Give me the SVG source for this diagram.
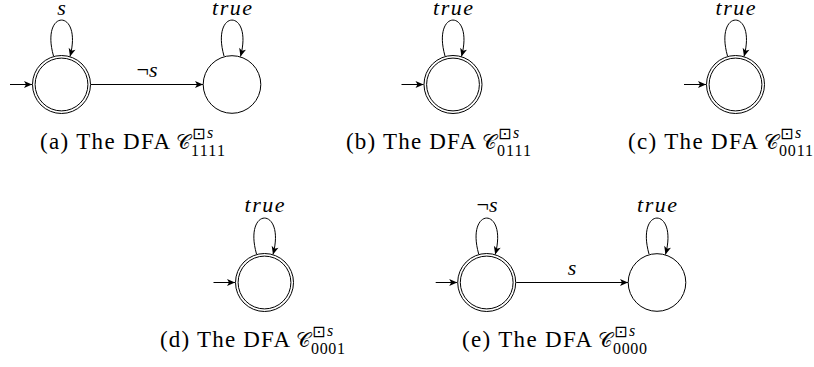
<svg xmlns="http://www.w3.org/2000/svg" width="814" height="367" viewBox="0 0 814 367">
<style>
.st{fill:none;stroke:#000;stroke-width:1}
.lbl{font-family:"Liberation Serif",serif;font-style:italic;font-size:22px;text-anchor:middle;fill:#000}
.up{font-style:normal}
.cap{font-family:"Liberation Serif",serif;font-size:23px;fill:#000}
.cal{font-family:"DejaVu Serif","DejaVu Sans","Liberation Serif",serif;font-size:20px;fill:#000}
.box{font-family:"DejaVu Sans",sans-serif;font-size:16px;fill:#000}
.sup{font-family:"Liberation Serif",serif;font-style:italic;font-size:16px;fill:#000}
.sub{font-family:"Liberation Serif",serif;font-size:16px;fill:#000}
</style>
<defs>
<marker id="ah" viewBox="-9 -5 10 10" refX="0" refY="0" markerWidth="10" markerHeight="10" orient="auto" markerUnits="userSpaceOnUse">
<path d="M-8,-3.5 L0,0 L-8,3.5 L-6,0 Z" fill="#000"/>
</marker>
</defs>

<!-- nodes -->
<g id="a-q0"><circle class="st" cx="61.5" cy="84.5" r="29"/><circle class="st" cx="61.5" cy="84.5" r="26.4"/></g>
<g id="a-q1"><circle class="st" cx="232" cy="84.5" r="28.8"/></g>
<g id="b-q0"><circle class="st" cx="453" cy="84.5" r="29"/><circle class="st" cx="453" cy="84.5" r="26.4"/></g>
<g id="c-q0"><circle class="st" cx="735.5" cy="84.5" r="29"/><circle class="st" cx="735.5" cy="84.5" r="26.4"/></g>
<g id="d-q0"><circle class="st" cx="264.5" cy="282.5" r="29"/><circle class="st" cx="264.5" cy="282.5" r="26.4"/></g>
<g id="e-q0"><circle class="st" cx="486.7" cy="282.5" r="29"/><circle class="st" cx="486.7" cy="282.5" r="26.4"/></g>
<g id="e-q1"><circle class="st" cx="657" cy="282.5" r="28.8"/></g>

<!-- connectors -->
<g id="connectors" class="st" marker-end="url(#ah)">
<path d="M10,84.5 H32"/>
<path d="M53.5,56 C40,8 83,8 70,56.5"/>
<path d="M224,56 C210.5,8 253.5,8 240.5,56.5"/>
<path d="M91,84.5 H203"/>
<path d="M401.5,84.5 H423.5"/>
<path d="M445,56 C431.5,8 474.5,8 461.5,56.5"/>
<path d="M684,84.5 H706"/>
<path d="M727.5,56 C714,8 757,8 744,56.5"/>
<path d="M213.5,282.5 H235"/>
<path d="M256.5,254 C243,206 286,206 273,254.5"/>
<path d="M435.7,282.5 H457.2"/>
<path d="M478.7,254 C465.2,206 508.2,206 495.2,254.5"/>
<path d="M516.2,282.5 H628"/>
<path d="M649,254 C635.5,206 678.5,206 665.5,254.5"/>
</g>

<!-- labels -->
<g id="labels">
<text class="lbl" x="61.5" y="15">s</text>
<text class="lbl" x="232" y="15" textLength="40" lengthAdjust="spacing">true</text>
<text class="lbl" x="147" y="77"><tspan class="up">¬</tspan>s</text>
<text class="lbl" x="453" y="15" textLength="40" lengthAdjust="spacing">true</text>
<text class="lbl" x="735.5" y="15" textLength="40" lengthAdjust="spacing">true</text>
<text class="lbl" x="264.5" y="212" textLength="40" lengthAdjust="spacing">true</text>
<text class="lbl" x="487" y="212"><tspan class="up">¬</tspan>s</text>
<text class="lbl" x="572" y="275">s</text>
<text class="lbl" x="657" y="212" textLength="40" lengthAdjust="spacing">true</text>
</g>

<!-- captions -->
<g id="cap-a">
<text class="cap" x="40" y="149" textLength="130" lengthAdjust="spacing">(a) The DFA</text>
<text class="cal" x="176" y="149">𝒞</text>
<text class="box" x="192" y="139">⊡</text>
<text class="sup" x="207" y="138">s</text>
<text class="sub" x="191" y="156" textLength="34" lengthAdjust="spacing">1111</text>
</g>
<g id="cap-b">
<text class="cap" x="346" y="149" textLength="130" lengthAdjust="spacing">(b) The DFA</text>
<text class="cal" x="482" y="149">𝒞</text>
<text class="box" x="498" y="139">⊡</text>
<text class="sup" x="513" y="138">s</text>
<text class="sub" x="497" y="156" textLength="34" lengthAdjust="spacing">0111</text>
</g>
<g id="cap-c">
<text class="cap" x="628" y="149" textLength="130" lengthAdjust="spacing">(c) The DFA</text>
<text class="cal" x="764" y="149">𝒞</text>
<text class="box" x="780" y="139">⊡</text>
<text class="sup" x="795" y="138">s</text>
<text class="sub" x="779" y="156" textLength="34" lengthAdjust="spacing">0011</text>
</g>
<g id="cap-d">
<text class="cap" x="160" y="347" textLength="130" lengthAdjust="spacing">(d) The DFA</text>
<text class="cal" x="296" y="347">𝒞</text>
<text class="box" x="312" y="337">⊡</text>
<text class="sup" x="327" y="336">s</text>
<text class="sub" x="311" y="354" textLength="34" lengthAdjust="spacing">0001</text>
</g>
<g id="cap-e">
<text class="cap" x="462" y="347" textLength="130" lengthAdjust="spacing">(e) The DFA</text>
<text class="cal" x="598" y="347">𝒞</text>
<text class="box" x="614" y="337">⊡</text>
<text class="sup" x="629" y="336">s</text>
<text class="sub" x="613" y="354" textLength="34" lengthAdjust="spacing">0000</text>
</g>
</svg>
